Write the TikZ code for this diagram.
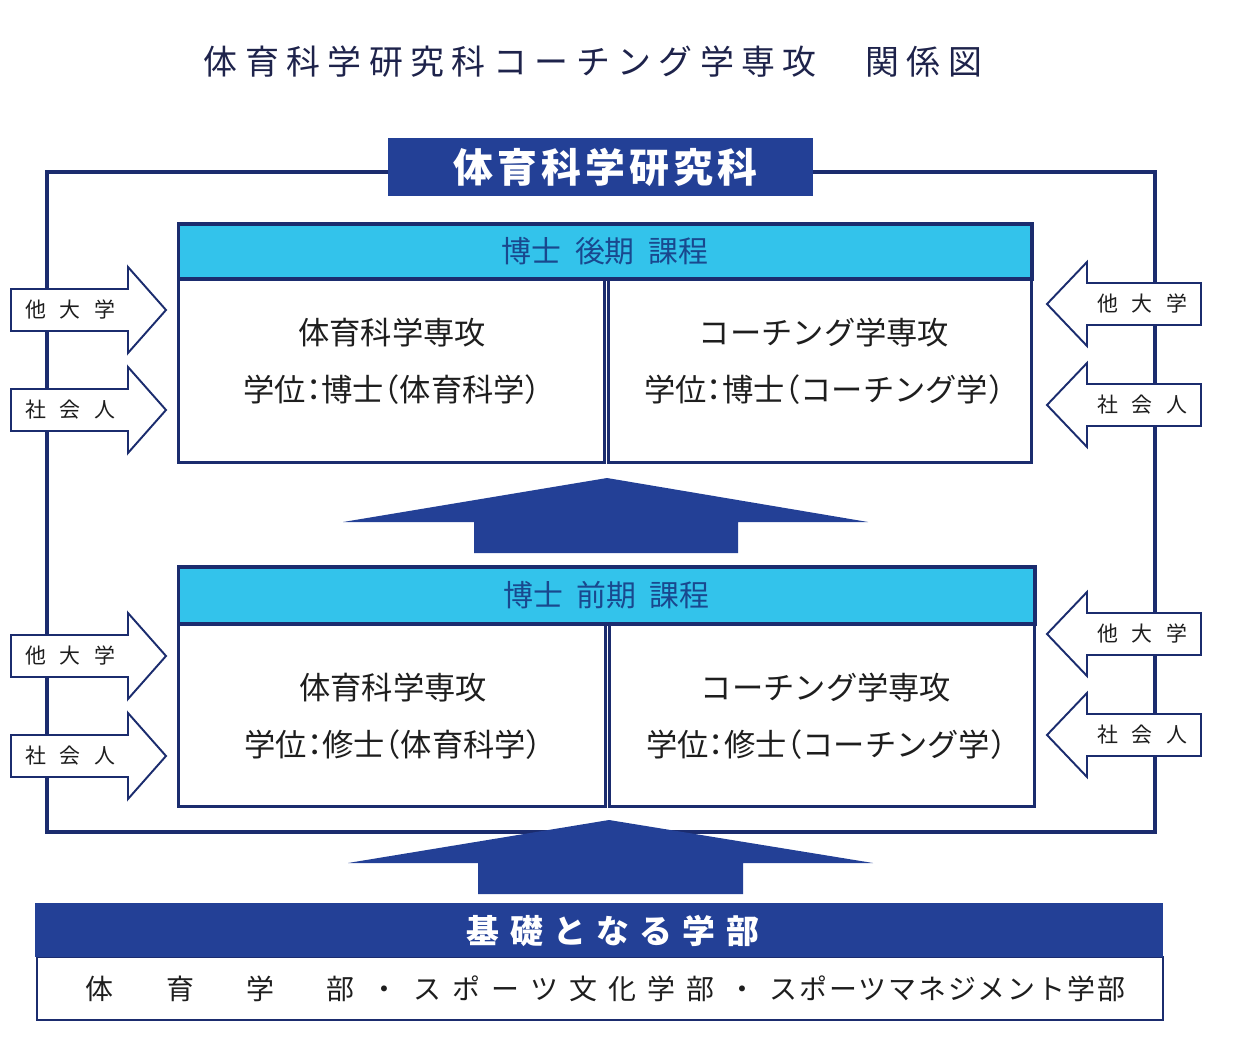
\documentclass[tikz,border=0pt]{standalone}
\usepackage{fontspec}
\setmainfont{Noto Sans CJK JP}
\definecolor{navy}{RGB}{27,44,110}
\definecolor{deepblue}{RGB}{35,64,150}
\definecolor{cyanhead}{RGB}{51,195,235}
\definecolor{headtext}{RGB}{25,72,142}
\definecolor{titleink}{RGB}{30,35,75}
\definecolor{ink}{RGB}{30,30,30}
\newcommand{\sidegap}{\hspace{.65em}}
\newcommand{\halfw}[1]{{\addfontfeature{RawFeature=+halt}#1}}

\begin{document}
\begin{tikzpicture}[x=0.02cm,y=-0.02cm,
  every node/.style={inner sep=0pt},
  frame/.style={draw=navy,line width=2.3pt},
  course/.style={draw=navy,line width=1.7pt,fill=white},
  coursetext/.style={align=center,text=ink,font=\fontsize{17.8}{32.3}\selectfont},
  coursehead/.style={draw=navy,line width=1.8pt,fill=cyanhead,text=headtext,font=\fontsize{17}{18}\selectfont},
  bluebox/.style={fill=deepblue,text=white},
  inarrow/.style={draw=navy,line width=1.1pt,fill=white,line join=miter},
  uparrow/.style={fill=deepblue},
  sidelabel/.style={text=ink,font=\fontsize{11.9}{13}\selectfont}]
\useasboundingbox (0,0) rectangle (1240,1043);

\node[text=titleink,font=\fontsize{19.3}{22}\selectfont\addfontfeature{LetterSpace=22}] (title) at (593,62) {体育科学研究科コーチング学専攻　関係図};

\draw[frame] (47,172) rectangle (1155,832);
\node[bluebox,minimum width=8.5cm,minimum height=1.16cm,font=\fontsize{22.7}{24}\selectfont\bfseries\addfontfeature{LetterSpace=10}] (gsch) at (600.5,167) {\hspace*{.25em}体育科学研究科};

% doctoral course
\node[course,minimum width=8.54cm,minimum height=3.68cm] (dl) at (391.5,371) {};
\node[course,minimum width=8.48cm,minimum height=3.68cm] (dr) at (820,371) {};
\node[coursetext] (dlt) at (392,361.5) {体育科学専攻\\学位\halfw{：}博士\halfw{（}体育科学\halfw{）}};
\node[coursetext] (drt) at (824,361.5) {コーチング学専攻\\学位\halfw{：}博士\halfw{（}コーチング学\halfw{）}};
\node[coursehead,minimum width=17.08cm,minimum height=1.1cm] (dh) at (605,251.5) {博士\hspace{.45em}後期\hspace{.45em}課程};

% master course
\node[course,minimum width=8.56cm,minimum height=3.66cm] (ml) at (392,715.5) {};
\node[course,minimum width=8.52cm,minimum height=3.66cm] (mr) at (822,715.5) {};
\node[coursetext] (mlt) at (393,716.5) {体育科学専攻\\学位\halfw{：}修士\halfw{（}体育科学\halfw{）}};
\node[coursetext] (mrt) at (826,716.5) {コーチング学専攻\\学位\halfw{：}修士\halfw{（}コーチング学\halfw{）}};
\node[coursehead,minimum width=17.14cm,minimum height=1.14cm] (mh) at (606.5,595.5) {博士\hspace{.45em}前期\hspace{.45em}課程};

\fill[uparrow] (607,478) -- (868,522) -- (738,522) -- (738,553) -- (474,553) -- (474,522) -- (343,522) -- cycle;
\fill[uparrow] (609,820) -- (873,863) -- (743,863) -- (743,894) -- (478,894) -- (478,863) -- (348,863) -- cycle;

% entrants
\foreach \c/\t/\n in {310/{他\sidegap 大\sidegap 学}/a,410/{社\sidegap 会\sidegap 人}/b,656/{他\sidegap 大\sidegap 学}/c,756/{社\sidegap 会\sidegap 人}/d}{
  \draw[inarrow] (11,\c-21) -- (128,\c-21) -- (128,\c-43) -- (166,\c) -- (128,\c+43) -- (128,\c+21) -- (11,\c+21) -- cycle;
  \node[sidelabel] (inL\n) at (70,\c) {\t};
}
\foreach \c/\t/\n in {304/{他\sidegap 大\sidegap 学}/a,405/{社\sidegap 会\sidegap 人}/b,634/{他\sidegap 大\sidegap 学}/c,735/{社\sidegap 会\sidegap 人}/d}{
  \draw[inarrow] (1201,\c-21) -- (1087,\c-21) -- (1087,\c-42) -- (1047,\c) -- (1087,\c+42) -- (1087,\c+21) -- (1201,\c+21) -- cycle;
  \node[sidelabel] (inR\n) at (1142,\c) {\t};
}

% undergraduate base
\node[draw=navy,line width=1.4pt,fill=white,minimum width=22.52cm,minimum height=1.26cm,text=ink,font=\fontsize{15.9}{18}\selectfont] (basebox) at (600,988.5)
  {\hspace*{.4em}体\hspace{1.875em}育\hspace{1.875em}学\hspace{1.875em}部\hspace{.55em}・\hspace{.55em}{\addfontfeature{LetterSpace=40}スポーツ文化学部}\hspace{.5em}・\hspace{.46em}{\addfontfeature{LetterSpace=7}スポーツマネジメント学部}};
\node[bluebox,minimum width=22.56cm,minimum height=1.08cm] (basehead) at (599,930) {};
\node[text=white,font=\fontsize{18.7}{20}\selectfont\bfseries\addfontfeature{LetterSpace=32}] (baselabel) at (613,931) {基礎となる学部};
\end{tikzpicture}
\end{document}
